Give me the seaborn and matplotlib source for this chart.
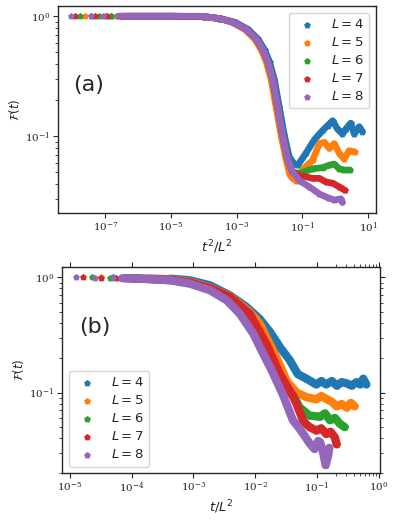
import numpy as np
import matplotlib
matplotlib.use("Agg")
import matplotlib.pyplot as plt
import seaborn as sns
from matplotlib.ticker import FixedLocator, NullLocator, LogLocator, NullFormatter

sns.set_style("ticks")
plt.rcParams["font.family"] = ["DejaVu Sans"]

sizes = [4, 5, 6, 7, 8]
colors = sns.color_palette("tab10", 5)
n_sparse = 3  # first few points are isolated dots, no band

# panel (a): log10(t^2/L^2) and log10 F(t)
a_lx4 = [-7.43, -6.83, -6.48, -6.3, -5.0, -4.0, -3.5, -3.05, -2.65, -2.35, -2.15, -2.0, -1.85, -1.70, -1.55,
         -1.40, -1.25, -1.14, -0.89, -0.64, -0.38, -0.23, -0.08, 0.07, 0.22, 0.32, 0.47, 0.58, 0.73, 0.83]
a_ly4 = [0, 0, 0, 0, 0, -0.003, -0.02, -0.05, -0.11, -0.19, -0.28, -0.38, -0.53, -0.76, -0.99,
         -1.17, -1.23, -1.24, -1.14, -1.03, -0.95, -0.91, -0.87, -0.94, -0.98, -0.94, -0.89, -0.98, -0.92, -0.96]
a_lx5 = [-7.62, -7.02, -6.67, -6.4, -5.0, -4.0, -3.5, -3.15, -2.75, -2.45, -2.25, -2.10, -1.95, -1.80, -1.65,
         -1.50, -1.38, -1.30, -1.18, -1.0, -0.85, -0.69, -0.48, -0.33, -0.18, -0.03, 0.12, 0.27, 0.42, 0.60]
a_ly5 = [0, 0, 0, 0, 0, -0.003, -0.02, -0.05, -0.11, -0.19, -0.28, -0.38, -0.53, -0.76, -0.99,
         -1.19, -1.32, -1.35, -1.37, -1.28, -1.24, -1.2, -1.06, -1.05, -1.10, -1.06, -1.14, -1.19, -1.12, -1.13]
a_lx6 = [-7.78, -7.18, -6.83, -6.5, -5.0, -4.0, -3.5, -3.1, -2.7, -2.4, -2.2, -2.05, -1.9, -1.75, -1.6,
         -1.45, -1.3, -1.15, -1.0, -0.69, -0.38, -0.18, -0.03, 0.12, 0.27, 0.45]
a_ly6 = [0, 0, 0, 0, 0, -0.003, -0.02, -0.05, -0.11, -0.19, -0.28, -0.38, -0.53, -0.76, -0.99,
         -1.19, -1.29, -1.31, -1.30, -1.27, -1.26, -1.24, -1.23, -1.27, -1.28, -1.28]
a_lx7 = [-7.91, -7.31, -6.96, -6.5, -5.0, -4.0, -3.5, -3.1, -2.7, -2.4, -2.2, -2.05, -1.9, -1.75, -1.6,
         -1.45, -1.3, -1.15, -1.0, -0.69, -0.48, -0.28, -0.08, 0.12, 0.30]
a_ly7 = [0, 0, 0, 0, 0, -0.003, -0.02, -0.05, -0.11, -0.19, -0.28, -0.38, -0.53, -0.76, -0.99,
         -1.19, -1.30, -1.32, -1.33, -1.35, -1.35, -1.38, -1.39, -1.42, -1.45]
a_lx8 = [-8.03, -7.43, -7.08, -6.6, -6.0, -5.0, -4.12, -3.52, -3.11, -2.71, -2.40, -2.20, -2.05, -1.90,
         -1.75, -1.60, -1.45, -1.29, -1.09, -0.79, -0.48, -0.23, -0.03, 0.17, 0.22]
a_ly8 = [0, 0, 0, 0, 0, 0, 0, -0.02, -0.05, -0.11, -0.19, -0.28, -0.38, -0.53,
         -0.76, -0.99, -1.19, -1.30, -1.37, -1.42, -1.48, -1.51, -1.53, -1.52, -1.55]

# panel (b): log10(t/L^2) and log10 F(t)
b_lx4 = [-4.30, -4.00, -3.80, -3.38, -3.06, -2.73, -2.41, -2.14, -1.93, -1.76, -1.60, -1.44, -1.31, -1.17,
         -1.01, -0.93, -0.85, -0.76, -0.68, -0.60, -0.52, -0.44, -0.36, -0.30, -0.25, -0.20]
b_ly4 = [0.0, -0.004, -0.006, -0.012, -0.026, -0.07, -0.157, -0.258, -0.36, -0.475, -0.606, -0.72, -0.84, -0.88,
         -0.93, -0.90, -0.93, -0.90, -0.94, -0.91, -0.92, -0.94, -0.91, -0.93, -0.88, -0.93]
b_lx5 = [-4.49, -4.19, -4.0, -3.70, -3.38, -3.06, -2.73, -2.41, -2.09, -1.93, -1.66, -1.49, -1.33, -1.17,
         -1.01, -0.93, -0.85, -0.76, -0.68, -0.60, -0.52, -0.45, -0.39]
b_ly5 = [0.0, -0.004, -0.006, -0.01, -0.018, -0.04, -0.09, -0.165, -0.30, -0.40, -0.69, -0.90, -1.0, -1.04,
         -1.06, -1.03, -1.055, -1.08, -1.12, -1.10, -1.13, -1.09, -1.12]
b_lx6 = [-4.65, -4.35, -4.15, -4.0, -3.38, -3.06, -2.73, -2.41, -2.09, -1.87, -1.71, -1.55, -1.39, -1.28,
         -1.12, -0.95, -0.87, -0.79, -0.71, -0.63, -0.55]
b_ly6 = [0.0, -0.004, -0.006, -0.008, -0.024, -0.05, -0.105, -0.19, -0.36, -0.60, -0.79, -0.96, -1.02, -1.13,
         -1.2, -1.21, -1.18, -1.24, -1.22, -1.27, -1.30]
b_lx7 = [-4.79, -4.49, -4.25, -4.1, -3.38, -3.06, -2.73, -2.41, -2.09, -1.82, -1.60, -1.39, -1.33,
         -1.22, -1.12, -1.01, -0.93, -0.85, -0.78, -0.71, -0.68]
b_ly7 = [0.0, -0.004, -0.006, -0.008, -0.02, -0.045, -0.095, -0.17, -0.316, -0.577, -0.84, -1.03, -1.1,
         -1.25, -1.30, -1.33, -1.31, -1.36, -1.34, -1.39, -1.45]
b_lx8 = [-4.90, -4.60, -4.30, -4.15, -3.70, -3.38, -3.06, -2.73, -2.46, -2.25, -2.03, -1.87, -1.74, -1.55,
         -1.39, -1.30, -1.22, -1.12, -1.04, -0.98, -0.95, -0.90, -0.86, -0.82, -0.80]
b_ly8 = [0.0, -0.003, -0.006, -0.008, -0.015, -0.026, -0.055, -0.113, -0.20, -0.316, -0.49, -0.664, -0.80, -1.02,
         -1.24, -1.30, -1.36, -1.44, -1.49, -1.42, -1.43, -1.52, -1.63, -1.55, -1.48]


def draw(ax, lxs, lys, lw):
    for L, c, lx, ly in zip(sizes, colors, lxs, lys):
        x = np.power(10.0, lx)
        y = np.power(10.0, ly)
        sns.lineplot(x=x[n_sparse:], y=y[n_sparse:], color=c, lw=lw, ax=ax,
                     estimator=None, sort=False, solid_capstyle="round")
        sns.scatterplot(x=x, y=y, color=c, marker="p", s=26, linewidth=0, ax=ax,
                        label="$L = %d$" % L)


fig = plt.figure(figsize=(3.97, 5.2), dpi=100)
ax1 = fig.add_axes([0.146, 0.590, 0.801, 0.398])
ax2 = fig.add_axes([0.156, 0.090, 0.801, 0.396])

for ax in (ax1, ax2):
    ax.set_xscale("log")
    ax.set_yscale("log")

draw(ax1, [a_lx4, a_lx5, a_lx6, a_lx7, a_lx8], [a_ly4, a_ly5, a_ly6, a_ly7, a_ly8], 4.8)
draw(ax2, [b_lx4, b_lx5, b_lx6, b_lx7, b_lx8], [b_ly4, b_ly5, b_ly6, b_ly7, b_ly8], 6.0)

# panel (a)
ax1.set_xlim(10 ** -8.44, 10 ** 1.24)
ax1.set_ylim(10 ** -1.64, 10 ** 0.083)
ax1.xaxis.set_major_locator(FixedLocator([1e-7, 1e-5, 1e-3, 1e-1, 1e1]))
ax1.xaxis.set_minor_locator(NullLocator())
ax1.yaxis.set_minor_locator(LogLocator(base=10, subs=np.arange(2, 10)))
ax1.yaxis.set_minor_formatter(NullFormatter())
ax1.set_xlabel("$t^2/L^2$", fontsize=9.5, labelpad=2)
ax1.set_ylabel(r"$\mathcal{F}(t)$", fontsize=8.5, labelpad=2)
ax1.text(0.047, 0.62, "(a)", transform=ax1.transAxes, fontsize=16, va="center")
ax1.legend(loc="upper right", fontsize=9.5, labelspacing=0.38, handletextpad=0.8)

# panel (b)
ax2.set_xlim(10 ** -5.13, 10 ** 0.02)
ax2.set_ylim(10 ** -1.70, 10 ** 0.087)
ax2.xaxis.set_major_locator(FixedLocator([1e-5, 1e-4, 1e-3, 1e-2, 1e-1, 1e0]))
ax2.xaxis.set_minor_locator(FixedLocator([0.2, 0.3, 0.4, 0.5, 0.6, 0.7, 0.8, 0.9]))
ax2.xaxis.set_minor_formatter(NullFormatter())
ax2.yaxis.set_minor_locator(LogLocator(base=10, subs=np.arange(2, 10)))
ax2.yaxis.set_minor_formatter(NullFormatter())
ax2.tick_params(which="both", top=True, right=True)
ax2.set_xlabel("$t/L^2$", fontsize=9.5, labelpad=2)
ax2.set_ylabel(r"$\mathcal{F}(t)$", fontsize=8.5, labelpad=2)
ax2.text(0.053, 0.711, "(b)", transform=ax2.transAxes, fontsize=16, va="center")
ax2.legend(loc="lower left", fontsize=9.5, labelspacing=0.38, handletextpad=0.8)

for ax in (ax1, ax2):
    ax.tick_params(which="major", length=3.5, width=0.8, labelsize=7.5, pad=2,
                   labelfontfamily="DejaVu Serif")
    ax.tick_params(which="minor", length=2, width=0.6)
    for s in ax.spines.values():
        s.set_linewidth(1.0)

fig.savefig("out.png", dpi=100)
